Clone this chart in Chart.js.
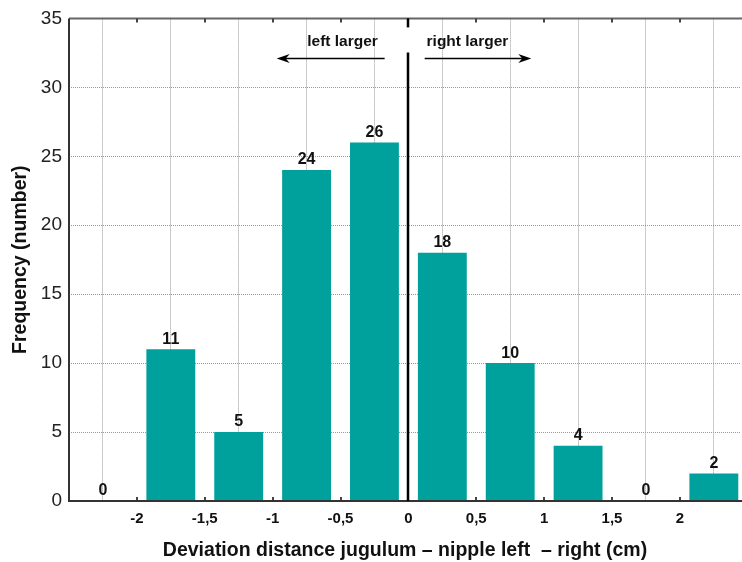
<!DOCTYPE html>
<html><head><meta charset="utf-8">
<script src="https://cdn.jsdelivr.net/npm/chart.js@4/dist/chart.umd.min.js"></script>
<style>html,body{margin:0;padding:0;background:#fff}#wrap{width:742px;height:562px}</style>
</head><body><div id="wrap"><canvas id="c"></canvas></div>
<script>
const binCenters = [-2.25, -1.75, -1.25, -0.75, -0.25, 0.25, 0.75, 1.25, 1.75, 2.25];
const counts = [0, 11, 5, 24, 26, 18, 10, 4, 0, 2];
const xTicks = [-2, -1.5, -1, -0.5, 0, 0.5, 1, 1.5, 2];
const yTicks = [0, 5, 10, 15, 20, 25, 30, 35];
const leftLabel = "left larger";
const rightLabel = "right larger";
const xTitle = "Deviation distance jugulum \u2013 nipple left  \u2013 right (cm)";
const yTitle = "Frequency (number)";

const FONT = "'Liberation Sans', Arial, sans-serif";

const overlay = {
  id: 'overlay',
  afterDatasetsDraw(chart) {
    const ctx = chart.ctx, a = chart.chartArea, xs = chart.scales.x, ys = chart.scales.y;
    ctx.save();
    ctx.strokeStyle = '#666'; ctx.lineWidth = 2;
    ctx.beginPath(); ctx.moveTo(a.left, a.top); ctx.lineTo(a.right + 2, a.top); ctx.stroke();
    ctx.strokeStyle = '#444'; ctx.lineWidth = 2;
    xTicks.forEach(v => {
      const px = Math.round(xs.getPixelForValue(v));
      ctx.beginPath(); ctx.moveTo(px, a.top); ctx.lineTo(px, a.top + 4); ctx.stroke();
      ctx.beginPath(); ctx.moveTo(px, a.bottom); ctx.lineTo(px, a.bottom - 4); ctx.stroke();
    });
    ctx.strokeStyle = '#333'; ctx.lineWidth = 2;
    ctx.beginPath(); ctx.moveTo(a.left, a.top); ctx.lineTo(a.left, a.bottom); ctx.lineTo(a.right + 2, a.bottom); ctx.stroke();
    const x0 = Math.round(xs.getPixelForValue(0));
    ctx.strokeStyle = '#000'; ctx.lineWidth = 2.5;
    ctx.beginPath(); ctx.moveTo(x0, a.top); ctx.lineTo(x0, a.top + 9); ctx.stroke();
    ctx.beginPath(); ctx.moveTo(x0, a.top + 34); ctx.lineTo(x0, a.bottom); ctx.stroke();
    const ay = ys.getPixelForValue(32.1);
    function arrow(fromV, toV) {
      const x1 = xs.getPixelForValue(fromV), x2 = xs.getPixelForValue(toV);
      const dir = Math.sign(x2 - x1);
      ctx.strokeStyle = '#000'; ctx.fillStyle = '#000'; ctx.lineWidth = 1.5;
      ctx.beginPath(); ctx.moveTo(x1, ay); ctx.lineTo(x2 - dir * 8, ay); ctx.stroke();
      ctx.beginPath(); ctx.moveTo(x2, ay); ctx.lineTo(x2 - dir * 13, ay - 4.5);
      ctx.lineTo(x2 - dir * 9, ay); ctx.lineTo(x2 - dir * 13, ay + 4.5); ctx.closePath(); ctx.fill();
    }
    arrow(-0.175, -0.97);
    arrow(0.12, 0.905);
    ctx.fillStyle = '#111'; ctx.font = 'bold 15.5px ' + FONT;
    ctx.textAlign = 'center'; ctx.textBaseline = 'middle';
    const ty = ys.getPixelForValue(33.3);
    ctx.fillText(leftLabel, xs.getPixelForValue(-0.485), ty);
    ctx.fillText(rightLabel, xs.getPixelForValue(0.435), ty);
    const meta = chart.getDatasetMeta(0);
    ctx.font = 'bold 16px ' + FONT; ctx.fillStyle = '#111';
    meta.data.forEach((bar, i) => {
      ctx.fillText(String(counts[i]), bar.x, bar.y - 10);
    });
    ctx.restore();
  }
};

new Chart(document.getElementById('c'), {
  type: 'bar',
  data: {
    datasets: [{
      data: binCenters.map((x, i) => ({ x: x, y: counts[i] })),
      backgroundColor: '#00A19C',
      borderWidth: 0,
      barPercentage: 0.72,
      categoryPercentage: 1.0
    }]
  },
  options: {
    responsive: true, maintainAspectRatio: false, animation: false,
    devicePixelRatio: 1,
    layout: { padding: { top: 16, right: 1, left: 0, bottom: 0 } },
    plugins: { legend: { display: false }, tooltip: { enabled: false } },
    scales: {
      x: {
        type: 'linear', min: -2.5, max: 2.45, offset: false,
        afterBuildTicks(s) { s.ticks = xTicks.map(v => ({ value: v })); },
        afterFit(s) { s.height = 61; },
        ticks: {
          padding: 9, color: '#111',
          font: { family: FONT, size: 15, weight: 'bold' },
          callback: v => String(v).replace('.', ',')
        },
        grid: { color: '#999', lineWidth: 1, drawTicks: false },
        border: { display: false, dash: [1, 1] },
        title: { display: true, text: xTitle, color: '#111', font: { family: FONT, size: 19.5, weight: 'bold' }, padding: { top: 2, bottom: 0 } }
      },
      y: {
        min: 0, max: 35,
        afterBuildTicks(s) { s.ticks = yTicks.map(v => ({ value: v })); },
        afterFit(s) { s.width = 69; },
        ticks: { padding: 7, color: '#222', font: { family: FONT, size: 19 } },
        grid: { color: '#999', lineWidth: 1, drawTicks: false },
        border: { display: false, dash: [1, 1] },
        title: { display: true, text: yTitle, color: '#111', font: { family: FONT, size: 19.5, weight: 'bold' }, padding: { top: 9, bottom: 0 } }
      }
    }
  },
  plugins: [overlay]
});
</script></body></html>
